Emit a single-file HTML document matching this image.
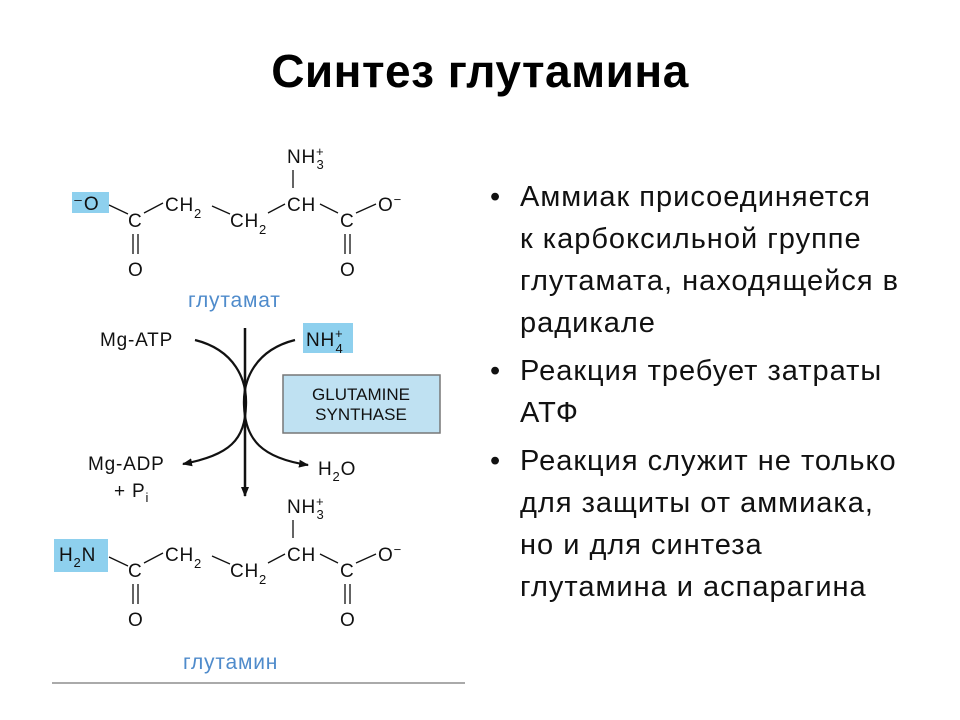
<!DOCTYPE html>
<html><head><meta charset="utf-8"><style>
body{margin:0;width:960px;height:720px;background:#fff;overflow:hidden;font-family:"Liberation Sans",sans-serif}
svg{position:absolute;left:0;top:0}
.t{position:absolute;left:0;width:960px;top:44px;text-align:center;font:bold 46px "Liberation Sans",sans-serif;letter-spacing:0.5px;color:#000}
.b{position:absolute;left:490px;font:29px/42px "Liberation Sans",sans-serif;letter-spacing:1px;color:#111;width:460px;white-space:nowrap}
.b div{position:relative;padding-left:30px;margin-bottom:6px}
.b div:before{content:"•";position:absolute;left:0}
</style></head><body>
<div class="t">Синтез глутамина</div>
<div class="b" style="top:176px">
<div>Аммиак присоединяется<br>к карбоксильной группе<br>глутамата, находящейся в<br>радикале</div>
<div>Реакция требует затраты<br>АТФ</div>
<div>Реакция служит не только<br>для защиты от аммиака,<br>но и для синтеза<br>глутамина и аспарагина</div>
</div>
<svg width="960" height="720" font-family="Liberation Sans,sans-serif" font-size="19" fill="#111" letter-spacing="0.8">
<defs><marker id="a" markerWidth="10" markerHeight="8" refX="9" refY="4" orient="auto" markerUnits="userSpaceOnUse"><path d="M0,0L10,4L0,8z" fill="#111"/></marker></defs>
<g id="chain">
<text x="287" y="163">NH<tspan font-size="13" dy="-7">+</tspan><tspan font-size="13" dx="-8" dy="13">3</tspan></text>
<line x1="293" y1="170" x2="293" y2="188" stroke="#111" stroke-width="1.3"/>
<text x="128" y="227">C</text>
<text x="165" y="211">CH<tspan font-size="13" dy="7">2</tspan></text>
<text x="230" y="227">CH<tspan font-size="13" dy="7">2</tspan></text>
<text x="287" y="211">CH</text>
<text x="340" y="227">C</text>
<text x="378" y="211">O<tspan font-size="13" dy="-7">−</tspan></text>
<g stroke="#111" stroke-width="1.3" fill="none">
<line x1="144" y1="213" x2="163" y2="203"/>
<line x1="212" y1="206" x2="230" y2="214"/>
<line x1="268" y1="213" x2="285" y2="204"/>
<line x1="320" y1="204" x2="338" y2="213"/>
<line x1="356" y1="213" x2="376" y2="204"/>
<line x1="133" y1="234" x2="133" y2="254"/><line x1="138" y1="234" x2="138" y2="254"/>
<line x1="345" y1="234" x2="345" y2="254"/><line x1="350" y1="234" x2="350" y2="254"/>
</g>
<text x="128" y="276">O</text>
<text x="340" y="276">O</text>
</g>
<rect x="72" y="192" width="37" height="21" fill="#8ed0ee"/>
<text x="73" y="210">⁻O</text>
<line x1="109" y1="205" x2="128" y2="214" stroke="#111" stroke-width="1.3"/>
<text x="188" y="307" font-size="21" fill="#4f8bcb">глутамат</text>
<use href="#chain" y="350"/>
<rect x="54" y="539" width="54" height="33" fill="#8ed0ee"/>
<text x="59" y="561">H<tspan font-size="13" dy="6">2</tspan><tspan dy="-6">N</tspan></text>
<line x1="109" y1="557" x2="128" y2="566" stroke="#111" stroke-width="1.3"/>
<text x="183" y="669" font-size="21" fill="#4f8bcb">глутамин</text>
<line x1="52" y1="683" x2="465" y2="683" stroke="#aaa" stroke-width="2"/>
<text x="100" y="346">Mg-ATP</text>
<rect x="303" y="323" width="50" height="30" fill="#8ed0ee"/>
<text x="306" y="346">NH<tspan font-size="13" dy="-8">+</tspan><tspan font-size="13" dx="-8" dy="15">4</tspan></text>
<line x1="245" y1="328" x2="245" y2="496" stroke="#111" stroke-width="2.5" marker-end="url(#a)"/>
<g stroke="#111" stroke-width="2.2" fill="none">
<path d="M195,340 C235,350 247,380 246,405 C245,440 230,455 183,464" marker-end="url(#a)"/>
<path d="M295,340 C255,350 243,380 244,405 C245,440 262,458 308,465" marker-end="url(#a)"/>
</g>
<rect x="283" y="375" width="157" height="58" fill="#bfe1f2" stroke="#777" stroke-width="1.5"/>
<text x="361" y="400" text-anchor="middle" font-size="17" letter-spacing="0">GLUTAMINE</text>
<text x="361" y="420" text-anchor="middle" font-size="17" letter-spacing="0">SYNTHASE</text>
<text x="88" y="470">Mg-ADP</text>
<text x="114" y="497">+ P<tspan font-size="13" dy="5">i</tspan></text>
<text x="318" y="475">H<tspan font-size="13" dy="6">2</tspan><tspan dy="-6">O</tspan></text>
</svg>
</body></html>
